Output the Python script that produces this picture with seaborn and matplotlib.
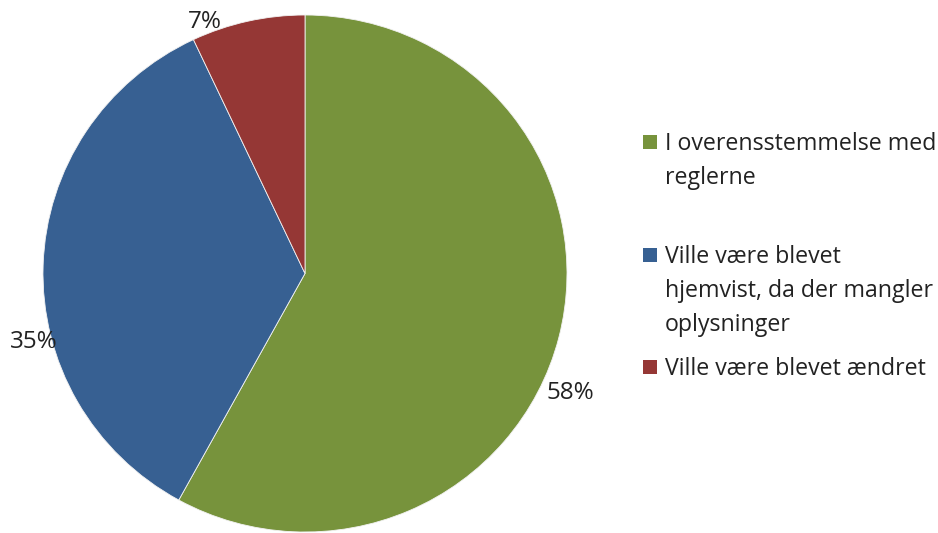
import matplotlib.pyplot as plt
import matplotlib.patches as mpatches
import seaborn as sns
import numpy as np

# data
categories = [
    "I overensstemmelse med\nreglerne",
    "Ville være blevet\nhjemvist, da der mangler\noplysninger",
    "Ville være blevet ændret",
]
shares = [58, 35, 7]
pct_labels = ["58%", "35%", "7%"]

colors = ["#77933C", "#376092", "#953735"]

# label placement (Excel "best fit" style): angle in degrees and radius
label_angle = [-24.5, -165.7, 111.4]
label_dist = [1.115, 1.07, 1.045]

sns.set_theme(style="white")
plt.rcParams["font.family"] = ["Open Sans", "DejaVu Sans"]

fig = plt.figure(figsize=(9.38, 5.33), dpi=100)
# the source image is slightly squashed vertically, so no equal aspect
ax = fig.add_axes([43 / 938, 1 / 533, 524 / 938, 517 / 533])

wedges, _ = ax.pie(
    shares,
    colors=colors,
    startangle=90,
    counterclock=False,
    radius=1.0,
    wedgeprops=dict(linewidth=0.6, edgecolor="#f2f2f2"),
)
ax.set_aspect("auto")
ax.set_xlim(-1, 1)
ax.set_ylim(-1, 1)
ax.axis("off")

for lab, ang, dist in zip(pct_labels, label_angle, label_dist):
    a = np.deg2rad(ang)
    ax.text(dist * np.cos(a), dist * np.sin(a), lab, ha="center", va="center",
            fontsize=17.5, color="#222222", clip_on=False)

# legend drawn by hand so the marker sits on the first text line
legend_y = [142, 255, 367]
for cat, col, y in zip(categories, colors, legend_y):
    fig.patches.append(mpatches.Rectangle(
        (643 / 938, 1 - (y + 7) / 533), 14 / 938, 14 / 533,
        transform=fig.transFigure, facecolor=col, edgecolor="none"))
    fig.text(665 / 938, 1 - (y - 10) / 533, cat, ha="left", va="top",
             fontsize=16.7, color="#222222", linespacing=1.55)

fig.savefig("out.png", dpi=100, facecolor="white")
